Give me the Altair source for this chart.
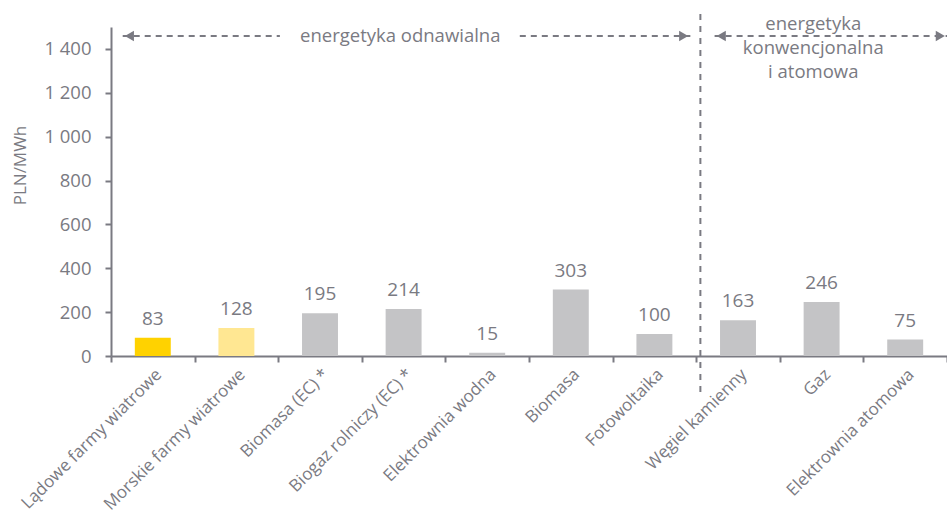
import altair as alt
import pandas as pd

# Levelised cost of electricity by source, PLN/MWh
categories = [
    "Lądowe farmy wiatrowe",
    "Morskie farmy wiatrowe",
    "Biomasa (EC) *",
    "Biogaz rolniczy (EC) *",
    "Elektrownia wodna",
    "Biomasa",
    "Fotowoltaika",
    "Węgiel kamienny",
    "Gaz",
    "Elektrownia atomowa",
]
values = [83, 128, 195, 214, 15, 303, 100, 163, 246, 75]
bar_colors = ["#FFD200", "#FFE792", "#C4C4C6", "#C4C4C6", "#C4C4C6",
              "#C4C4C6", "#C4C4C6", "#C4C4C6", "#C4C4C6", "#C4C4C6"]
y_ticks = [0, 200, 400, 600, 800, 1000, 1200, 1400]

# Group annotations, x measured in category slots (0 = left edge, 10 = right edge)
arrow_y = 1459
dash_segments_x1 = [0.14, 4.89, 7.22]
dash_segments_x2 = [2.02, 6.93, 10.0]
heads_left_x = [0.22, 7.30]
heads_right_x = [6.85, 9.92]
divider_x = 7.05
divider_y = [1559, -169]
group_texts = ["energetyka odnawialna", "energetyka", "konwencjonalna", "i atomowa"]
group_text_x = [3.46, 8.40, 8.40, 8.40]
group_text_y = [1459, 1514, 1404, 1294]

GREY = "#7A7A82"
FONT = "Open Sans"

bars_df = pd.DataFrame({"cat": categories, "val": values})
seg_df = pd.DataFrame({"x1": dash_segments_x1, "x2": dash_segments_x2,
                       "y": [arrow_y] * len(dash_segments_x1)})
hl_df = pd.DataFrame({"x": heads_left_x, "y": [arrow_y] * len(heads_left_x)})
hr_df = pd.DataFrame({"x": heads_right_x, "y": [arrow_y] * len(heads_right_x)})
div_df = pd.DataFrame({"x": [divider_x], "y1": [divider_y[0]], "y2": [divider_y[1]]})
txt_df = pd.DataFrame({"t": group_texts, "x": group_text_x, "y": group_text_y})

y_scale = alt.Scale(domain=[0, 1500], nice=False)
x_band = alt.Scale(domain=categories, paddingInner=0, paddingOuter=0)

x_axis = alt.Axis(title=None, labelAngle=-45, tickBand="extent",
                  tickSize=6, labelFontSize=17, labelColor=GREY,
                  labelPadding=4, labelLimit=0, domainColor=GREY, domainWidth=2,
                  tickColor=GREY, tickWidth=2, labelFont=FONT)
y_axis = alt.Axis(values=y_ticks, grid=False, tickSize=6, tickColor=GREY,
                  tickWidth=2, domainColor=GREY, domainWidth=2,
                  labelFontSize=18.5, labelColor=GREY, labelPadding=14,
                  labelFont=FONT,
                  labelExpr="replace(format(datum.value, ','), ',', ' ')",
                  title="PLN/MWh", titleFontSize=17, titleColor=GREY,
                  titleFontWeight="normal", titleFont=FONT,
                  titleAngle=-90, titleX=-91, titleY=138,
                  titleAlign="center", titleBaseline="middle")

bars = alt.Chart(bars_df).mark_bar(width=alt.RelativeBandSize(0.43)).encode(
    x=alt.X("cat:N", sort=categories, scale=x_band, axis=x_axis),
    y=alt.Y("val:Q", scale=y_scale, axis=y_axis),
    color=alt.Color("cat:N", scale=alt.Scale(domain=categories, range=bar_colors),
                    legend=None),
)

labels = alt.Chart(bars_df).mark_text(
    dy=-13, baseline="alphabetic", fontSize=19, color=GREY, font=FONT
).encode(
    x=alt.X("cat:N", sort=categories, scale=x_band, axis=x_axis),
    y=alt.Y("val:Q", scale=y_scale, axis=y_axis),
    text=alt.Text("val:Q"),
)

slot = alt.Scale(domain=[0, 10], nice=False, zero=False)

dashes = alt.Chart(seg_df).mark_rule(
    strokeDash=[6, 5], strokeWidth=2, color=GREY
).encode(
    x=alt.X("x1:Q", scale=slot, axis=None), x2="x2:Q",
    y=alt.Y("y:Q", scale=y_scale, axis=y_axis),
)

heads_l = alt.Chart(hl_df).mark_point(
    shape="triangle-left", filled=True, size=110, color=GREY, opacity=1
).encode(
    x=alt.X("x:Q", scale=slot, axis=None),
    y=alt.Y("y:Q", scale=y_scale, axis=y_axis),
)

heads_r = alt.Chart(hr_df).mark_point(
    shape="triangle-right", filled=True, size=110, color=GREY, opacity=1
).encode(
    x=alt.X("x:Q", scale=slot, axis=None),
    y=alt.Y("y:Q", scale=y_scale, axis=y_axis),
)

divider = alt.Chart(div_df).mark_rule(
    strokeDash=[6, 6], strokeWidth=2, color=GREY
).encode(
    x=alt.X("x:Q", scale=slot, axis=None),
    y=alt.Y("y1:Q", scale=y_scale, axis=y_axis), y2="y2:Q",
)

group_labels = alt.Chart(txt_df).mark_text(
    fontSize=18.5, color=GREY, font=FONT, baseline="middle", align="center"
).encode(
    x=alt.X("x:Q", scale=slot, axis=None),
    y=alt.Y("y:Q", scale=y_scale, axis=y_axis),
    text="t:N",
)

annotations = alt.layer(dashes, heads_l, heads_r, divider, group_labels)

chart = alt.layer(alt.layer(bars, labels), annotations).resolve_scale(
    x="independent"
).properties(
    width=836, height=329,
    autosize=alt.AutoSizeParams(type="none"),
    padding={"left": 111, "top": 27, "right": 0, "bottom": 162},
    background="white",
).configure_view(stroke=None)

chart.save("out.html", embed_options={"renderer": "svg", "actions": False})
